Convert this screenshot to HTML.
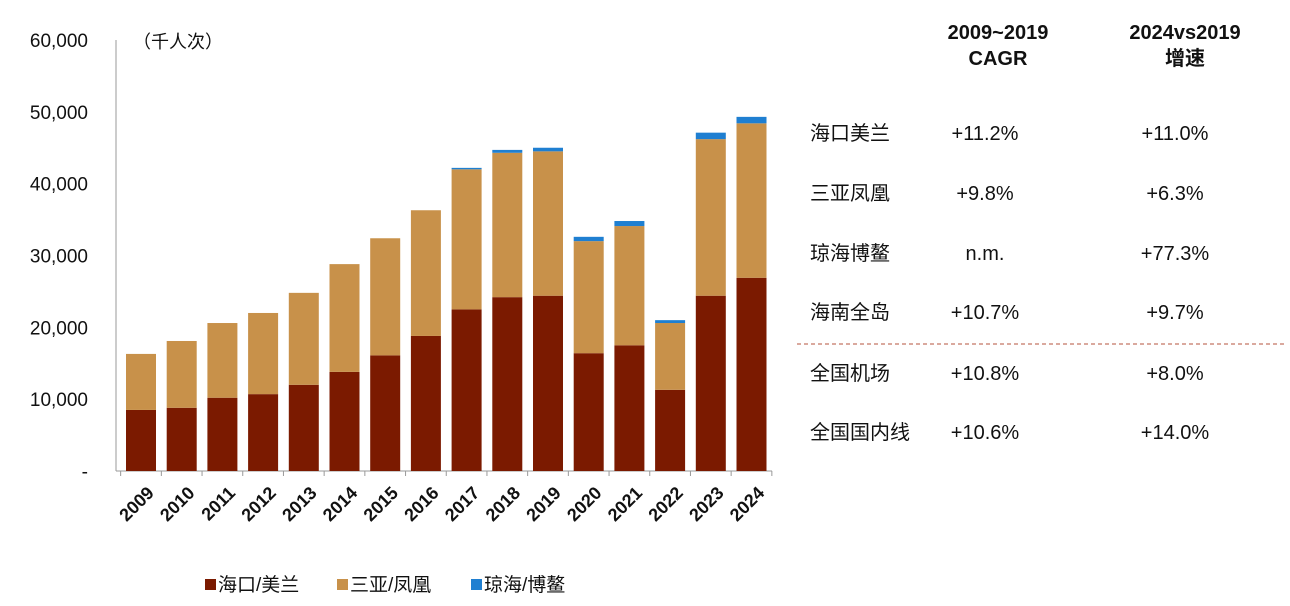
<!DOCTYPE html>
<html><head><meta charset="utf-8"><style>
body{margin:0;background:#fff;width:1290px;height:606px;overflow:hidden;font-family:"Liberation Sans","Noto Sans CJK SC",sans-serif;}
.t{position:absolute;font-size:20px;color:#111;white-space:nowrap;line-height:24px;height:24px}
</style></head><body>
<svg width="1290" height="606" style="position:absolute;left:0;top:0">
<g id="g"></g>
</svg>
<div class="t" style="left:133px;top:30px;font-size:18px">（千人次）</div>
<div class="t" style="left:918px;top:20px;font-weight:bold;text-align:center;width:160px;line-height:26px;height:auto">2009~2019<br>CAGR</div>
<div class="t" style="left:1105px;top:20px;font-weight:bold;text-align:center;width:160px;line-height:26px;height:auto">2024vs2019<br>增速</div>
<div id="tbl"></div>
<script>
const years=["2009","2010","2011","2012","2013","2014","2015","2016","2017","2018","2019","2020","2021","2022","2023","2024"];
const haikou=[8500,8800,10200,10700,12000,13800,16100,18800,22500,24200,24400,16400,17500,11300,24400,26900];
const sanya=[7800,9300,10400,11300,12800,15000,16300,17500,19500,20100,20100,15600,16600,9300,21800,21500];
const qionghai=[0,0,0,0,0,0,0,0,200,400,500,600,700,400,900,900];
const yTicks=[0,10000,20000,30000,40000,50000,60000];
const yTickLabels=["-","10,000","20,000","30,000","40,000","50,000","60,000"];
const rowNames=["海口美兰","三亚凤凰","琼海博鳌","海南全岛","全国机场","全国国内线"];
const cagr=["+11.2%","+9.8%","n.m.","+10.7%","+10.8%","+10.6%"];
const growth=["+11.0%","+6.3%","+77.3%","+9.7%","+8.0%","+14.0%"];
const NS="http://www.w3.org/2000/svg";
const g=document.getElementById('g');
const y0=471,y1=40,ymax=60000;
const Y=v=>y0-(v/ymax)*(y0-y1);
const X=i=>141+i*40.7;
function el(tag,a){const e=document.createElementNS(NS,tag);for(const k in a)e.setAttribute(k,a[k]);g.appendChild(e);return e;}
let ax=el('line',{x1:116,y1:y1,x2:116,y2:y0,stroke:'#999','stroke-width':1});

let bx=el('line',{x1:116,y1:y0,x2:772,y2:y0,stroke:'#999','stroke-width':1});

for(let i=0;i<=years.length;i++){const tk=el('line',{x1:X(i)-20.35,y1:y0,x2:X(i)-20.35,y2:y0+5,stroke:'#999','stroke-width':1});
}
yTicks.forEach((v,i)=>{const t=el('text',{x:88,y:Y(v)+7,'text-anchor':'end','font-size':19,fill:'#111'});t.textContent=yTickLabels[i];
});
years.forEach((yr,i)=>{
 const cx=X(i),w=30;
 const segs=[[haikou[i],'#7B1A00','bar-haikou'],[sanya[i],'#C8914A','bar-sanya'],[qionghai[i],'#1F7FD1','bar-qionghai']];
 let base=0;
 segs.forEach(s=>{if(s[0]<=0)return;const r=el('rect',{x:cx-w/2,y:Y(base+s[0]),width:w,height:Y(base)-Y(base+s[0]),fill:s[1]});
 base+=s[0];});
 const t=el('text',{x:cx+14,y:494,'text-anchor':'end','font-size':18,fill:'#111','font-weight':'bold',transform:`rotate(-45 ${cx+14} 494)`});t.textContent=yr;
 
});
const leg=[["海口/美兰",'#7B1A00',205],["三亚/凤凰",'#C8914A',337],["琼海/博鳌",'#1F7FD1',471]];
leg.forEach(l=>{const r=el('rect',{x:l[2],y:579,width:11,height:11,fill:l[1]});
const t=el('text',{x:l[2]+13,y:591,'font-size':19,fill:'#111'});t.textContent=l[0];});
const dl=el('line',{x1:797,y1:344,x2:1287,y2:344,stroke:'#B5533C','stroke-width':1,'stroke-dasharray':'4,3'});

const rowY=[134,194,254,313,374,433];
const tbl=document.getElementById('tbl');
rowNames.forEach((n,i)=>{
 [[n,810,'left',null,'row-name'],[cagr[i],985,'center',120,'row-cagr'],[growth[i],1175,'center',120,'row-growth']].forEach(c=>{
  const d=document.createElement('div');d.className='t';d.textContent=c[0];
  d.style.top=(rowY[i]-12)+'px';
  if(c[3]){d.style.left=(c[1]-c[3]/2)+'px';d.style.width=c[3]+'px';d.style.textAlign='center';}else d.style.left=c[1]+'px';
  
  
  tbl.appendChild(d);});
});
</script>
</body></html>
